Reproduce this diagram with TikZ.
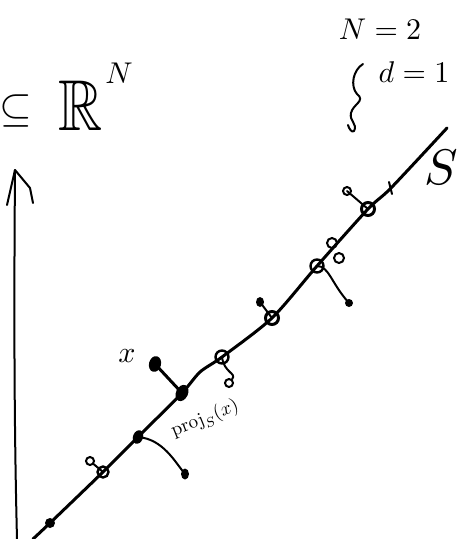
\documentclass[tikz,border=0pt]{standalone}
\usepackage{amssymb}
\usetikzlibrary{shapes.geometric}
\begin{document}
\begin{tikzpicture}[x=1pt,y=-1pt,
  curveline/.style={line width=3pt,line cap=round,line join=round},
  axisline/.style={line width=2pt,line cap=round,line join=round},
  projline/.style={line width=2pt,line cap=round},
  fdot/.style={ellipse,fill=black,inner sep=0pt,minimum width=#1,minimum height=#1},
  fblob/.style={ellipse,fill=black,inner sep=0pt,minimum width=10pt,minimum height=14pt},
  odot/.style={circle,draw=black,line width=2.4pt,inner sep=0pt,minimum size=#1},
  lbl/.style={inner sep=0pt,font=\fontsize{10}{12}\selectfont,scale=#1,transform shape}
]
\useasboundingbox (0,0) rectangle (462,539);
% axis
\coordinate (ax0) at (17,539);
\coordinate (ax1) at (15,170);
\coordinate (axl) at (7,205);
\coordinate (axr) at (33,203);
\draw[axisline] (ax0) .. controls (14,420) and (14,300) .. (ax1);
\draw[axisline] (axl) -- (ax1) -- (30,188) -- (axr);
% texts
\node[lbl=4.2] (sub) at (16,111) {$\subseteq$};
\node[lbl=7.2,xscale=0.85] (rr) at (81,106) {$\mathbb{R}$};
\node[lbl=3] (rn) at (119,73) {$N$};
\node[lbl=3] (neq) at (380,29) {$N=2$};
\node[lbl=3] (deq) at (414,72) {$d=1$};
\node[lbl=5] (slbl) at (441,167) {$S$};
\node[lbl=3] (xlbl) at (127,356) {$x$};
\node[lbl=1.9,rotate=22] (plbl) at (205,419) {$\mathrm{proj}_S(x)$};
% brace squiggle
\coordinate (br0) at (363,64);
\coordinate (br1) at (348,125);
\draw[axisline] (br0) .. controls (353,70) and (350,86) .. (357,94)
  .. controls (366,101) and (353,104) .. (351,113)
  .. controls (349,121) and (358,124) .. (354,131)
  .. controls (352,133) and (349,129) .. (br1);
% points on S
\coordinate (s0) at (33,539);
\coordinate (s1) at (50,523);
\coordinate (s2) at (103,472);
\coordinate (s3) at (138,437);
\coordinate (s4) at (182,393);
\coordinate (s4a) at (200,372);
\coordinate (s5) at (222,357);
\coordinate (s6) at (272,318);
\coordinate (s7) at (317,266);
\coordinate (s8) at (368,209);
\coordinate (s9) at (391,188);
\coordinate (s10) at (447,128);
\draw[curveline] plot[smooth,tension=0.45] coordinates {(s0) (s1) (s2) (s3) (s4) (s4a) (s5) (s6) (s7) (s8) (s9) (s10)};
% tick
\coordinate (tk0) at (389,182);
\coordinate (tk1) at (392,194);
\draw[projline] (tk0) -- (tk1);
% nodes on S
\node[fdot=10pt] (c1) at (s1) {};
\node[odot=11pt] (c2) at (s2) {};
\node[fblob,rotate=-20] (c3) at (s3) {};
\node[fblob,rotate=-25,minimum height=17pt,minimum width=12pt] (c4) at (s4) {};
\node[odot=13pt] (c5) at (s5) {};
\node[odot=13pt,line width=3pt] (c6) at (s6) {};
\node[odot=13pt] (c7) at (s7) {};
\node[odot=13pt,line width=3pt] (c8) at (s8) {};
% points off S
\node[odot=8pt,line width=2pt] (q2) at (90,461) {};
\node[fdot=8pt,minimum height=11pt] (q3) at (185,474) {};
\node[fblob,minimum width=12pt,minimum height=16pt,rotate=-15] (xp) at (155,364) {};
\node[odot=8pt,line width=2pt] (q5) at (229,383) {};
\node[fdot=8pt,minimum height=10pt] (q6) at (260,302) {};
\node[odot=7pt,line width=2pt,minimum height=10pt] (q7a) at (332,243) {};
\node[odot=7pt,line width=2pt,minimum height=10pt] (q7b) at (339,258) {};
\node[fdot=8pt] (q7) at (349,303) {};
\node[odot=8pt,line width=2pt] (q8) at (347,191) {};
% projections
\draw[projline] (q2) -- (c2.center);
\draw[projline] (c3.center) .. controls +(25,2) and +(-10,-12) .. (q3.center);
\draw[projline,line width=3pt] (xp.center) -- (c4.center);
\draw[projline] (c5.center) .. controls +(2,16) and +(8,-10) .. (q5);
\draw[projline] (q6.center) -- (c6.center);
\draw[projline] (c7.center) .. controls +(12,0) and +(-18,-20) .. (q7.center);
\draw[projline] (q8.center) -- (c8.center);
\end{tikzpicture}
\end{document}
